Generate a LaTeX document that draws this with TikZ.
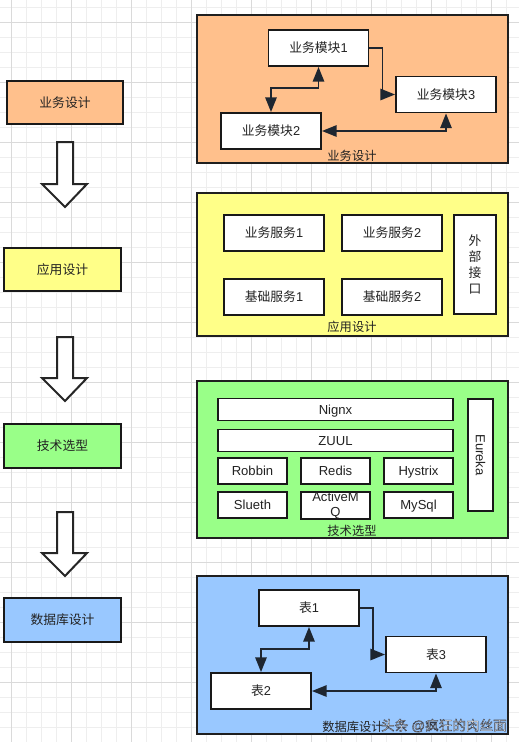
\documentclass[tikz,border=0pt]{standalone}
\usepackage{fontspec}
\setmainfont{Noto Sans CJK SC}
\newfontfamily\lat{Liberation Sans}
\usetikzlibrary{arrows.meta}
\definecolor{gridminor}{HTML}{EEEEEE}
\definecolor{gridmajor}{HTML}{DADADA}
\definecolor{cOrange}{HTML}{FFC08C}
\definecolor{cYellow}{HTML}{FFFF88}
\definecolor{cGreen}{HTML}{99FF88}
\definecolor{cBlue}{HTML}{99C8FF}
\definecolor{inkline}{HTML}{1E2630}
\definecolor{txt}{HTML}{222222}
\tikzset{
  leftbox/.style={draw=black!90, line width=1.5pt, minimum width=87.75pt, minimum height=32.5pt, inner sep=0pt, text=txt, font=\fontsize{9.6}{11}\selectfont},
  container/.style={draw=black!88, line width=1.5pt, minimum width=233.25pt, inner sep=0pt},
  wbox/.style={draw=black!90, fill=white, line width=1.4pt, inner sep=0pt, minimum width=75pt, minimum height=27pt, text=txt, font=\fontsize{9.6}{11}\selectfont},
  lbox/.style={wbox, font=\lat\fontsize{9.8}{11}\selectfont, text height=7pt, text depth=0pt},
  clabel/.style={inner sep=0pt, text=txt, font=\fontsize{9.2}{11}\selectfont},
  arr/.style={draw=inkline, line width=1.3pt, -{Triangle[length=11pt,width=8.5pt]}},
  arrtwo/.style={draw=inkline, line width=1.3pt, {Triangle[length=11pt,width=8.5pt]}-{Triangle[length=11pt,width=8.5pt]}},
  bigarrow/.style={draw=black!85, fill=white, line width=1.5pt, line join=miter},
}
\begin{document}
\begin{tikzpicture}[x=0.75pt,y=-0.75pt]
\useasboundingbox (0,0) rectangle (519,742);
\fill[white] (0,0) rectangle (519,742);
% grid
\foreach \k in {0,...,34} {\draw[gridminor, line width=0.6pt] ({11.7+15*\k},0) -- ({11.7+15*\k},742);}
\foreach \k in {0,...,49} {\draw[gridminor, line width=0.6pt] (0,{7.3+15*\k}) -- (519,{7.3+15*\k});}
\foreach \k in {0,...,8} {\draw[gridmajor, line width=0.6pt] ({11.7+60*\k},0) -- ({11.7+60*\k},742);}
\foreach \k in {0,...,12} {\draw[gridmajor, line width=0.6pt] (0,{22.7+60*\k}) -- (519,{22.7+60*\k});}

% left column
\node[leftbox, fill=cOrange, minimum width=87pt] (L1) at (65,102.5) {业务设计};
\node[leftbox, fill=cYellow] (L2) at (62.5,269.5) {应用设计};
\node[leftbox, fill=cGreen] (L3) at (62.5,446) {技术选型};
\node[leftbox, fill=cBlue] (L4) at (62.5,620) {数据库设计};

% block arrows
\foreach \t/\h/\p in {142/184/207, 337/378/401, 512/553/576} {
  \draw[bigarrow] (57,\t) -- (73,\t) -- (73,\h) -- (87,\h) -- (65,\p) -- (42,\h) -- (57,\h) -- cycle;
}

% container 1
\node[container, fill=cOrange, minimum height=111pt] (C1) at (352.5,89) {};
\node[clabel] (C1l) at (352,156) {业务设计};
\node[wbox] (m1) at (318.5,48) {业务模块{\lat 1}};
\node[wbox] (m3) at (446,94.5) {业务模块{\lat 3}};
\node[wbox] (m2) at (271,131) {业务模块{\lat 2}};
\draw[arr] (m1.east) -- ++(13,0) |- (m3.west);
\draw[arrtwo] (m2.north) -- ++(0,-24) -| (m1.south);
\draw[arrtwo] (m2.east) -| (m3.south);

% container 2
\node[container, fill=cYellow, minimum height=107.25pt] (C2) at (352.5,264.5) {};
\node[clabel] (C2l) at (352,327) {应用设计};
\node[wbox] (s1) at (274,233) {业务服务{\lat 1}};
\node[wbox] (s2) at (392,233) {业务服务{\lat 2}};
\node[wbox] (b1) at (274,297) {基础服务{\lat 1}};
\node[wbox] (b2) at (392,297) {基础服务{\lat 2}};
\node[wbox, minimum width=31.5pt, minimum height=74.25pt, align=center, font=\fontsize{9.6}{12.2}\selectfont] (ext) at (475,264.5) {外\\部\\接\\口};

% container 3
\node[container, fill=cGreen, minimum height=117.75pt] (C3) at (352.5,459.5) {};
\node[clabel] (C3l) at (352,531) {技术选型};
\node[lbox, minimum width=176.25pt, minimum height=16.5pt] (nginx) at (335.5,409.5) {Nignx};
\node[lbox, minimum width=176.25pt, minimum height=16.5pt] (zuul) at (335.5,440.5) {ZUUL};
\node[lbox, minimum width=51.75pt, minimum height=19.5pt] (robbin) at (252.5,471) {Robbin};
\node[lbox, minimum width=51.75pt, minimum height=19.5pt] (redis) at (335.5,471) {Redis};
\node[lbox, minimum width=51.75pt, minimum height=19.5pt] (hystrix) at (418.5,471) {Hystrix};
\node[lbox, minimum width=51.75pt, minimum height=19.5pt] (slueth) at (252.5,505) {Slueth};
\node[wbox, minimum width=51.75pt, minimum height=19.5pt, align=center, font=\lat\fontsize{9.8}{11.25}\selectfont] (amq) at (335.5,505.5) {ActiveM\\Q};
\node[lbox, minimum width=51.75pt, minimum height=19.5pt] (mysql) at (418.5,505) {MySql};
\node[lbox, rotate=-90, minimum width=84pt, minimum height=18.75pt] (eureka) at (480.5,455) {Eureka};

% container 4
\node[container, fill=cBlue, minimum height=118.5pt] (C4) at (352.5,655) {};
\node[wbox] (t1) at (309,608) {表{\lat 1}};
\node[wbox] (t3) at (436,654.5) {表{\lat 3}};
\node[wbox] (t2) at (261,691) {表{\lat 2}};
\draw[arr] (t1.east) -- ++(13,0) |- (t3.west);
\draw[arrtwo] (t2.north) -- ++(0,-23) -| (t1.south);
\draw[arrtwo] (t2.east) -| (t3.south);
\node[clabel] (C4l) at (353,727) {数据库设计};
\node[inner sep=0pt, anchor=east, text=white, font=\fontsize{10.2}{11}\selectfont] (wm) at (507,725.6) {\special{pdf:code 2 Tr 0.2 0.22 0.27 RG 0.3 w}头条 {\lat @}疯狂的肉丝面\special{pdf:code 0 Tr}};
\end{tikzpicture}
\end{document}
